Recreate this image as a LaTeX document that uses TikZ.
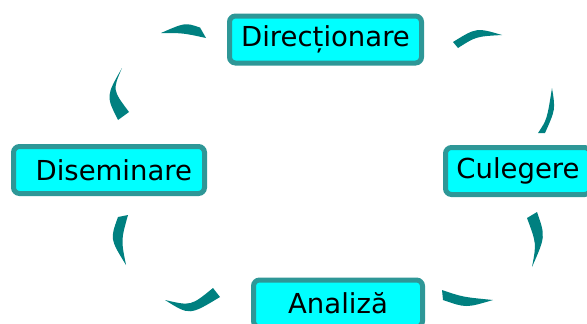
\documentclass[tikz,border=0pt]{standalone}
\usepackage{fontspec}
\setmainfont{DejaVu Sans}
\definecolor{arcteal}{HTML}{008080}
\definecolor{boxrim}{HTML}{2E9797}
\definecolor{boxfill}{HTML}{00FFFF}
\tikzset{
  stage/.style={rectangle,rounded corners=6pt,draw=boxrim,line width=5pt,fill=boxfill,
                inner sep=0pt,minimum height=47pt,font=\fontsize{27.5}{30}\selectfont},
  crescent/.style={fill=arcteal,draw=none}
}

\begin{document}
\begin{tikzpicture}[x=1pt,y=-1pt]
      \useasboundingbox (0,0) rectangle (587,324);
      \node[stage,minimum width=192pt] (Dir) at (325.5,39.5) {Direcționare};
      \node[stage,minimum width=145pt] (Cul) at (518,171)   {Culegere};
      \node[stage,minimum width=169pt] (Ana) at (338,303.5) {Analiză};
      \node[stage,minimum width=191pt,text width=166pt,align=right] (Dis) at (109,170) {Diseminare};
      % arcs between the stages, thick end next to a box
      \fill[crescent] (161,33)  .. controls (185,22.5)   .. (200,27.5) -- (206,38)  .. controls (183,33)     .. (161,33)  -- cycle;
      \fill[crescent] (502,35)  .. controls (476.5,27.5) .. (453,42)   -- (458,48)  .. controls (476,36.5)   .. (502,35)  -- cycle;
      \fill[crescent] (552,88)  .. controls (555.5,109.5) .. (545,133) -- (538,133) .. controls (547,119.5)  .. (552,88)  -- cycle;
      \fill[crescent] (532,267) .. controls (545.5,236.5) .. (537,212) -- (527,218) .. controls (536.5,243.5) .. (532,267) -- cycle;
      \fill[crescent] (493,300) .. controls (466,308)    .. (443,300)  -- (442,290) .. controls (462.5,297)  .. (493,300) -- cycle;
      \fill[crescent] (165,300) .. controls (189.5,315.5) .. (220,297) -- (213,288) .. controls (191,306)    .. (165,300) -- cycle;
      \fill[crescent] (126,265) .. controls (110,239)    .. (118,217)  -- (128,215) .. controls (121,240)    .. (126,265) -- cycle;
      \fill[crescent] (122,68)  .. controls (106,96)     .. (118,120)  -- (129,112) .. controls (112.5,90)   .. (122,68)  -- cycle;
\end{tikzpicture}
\end{document}
